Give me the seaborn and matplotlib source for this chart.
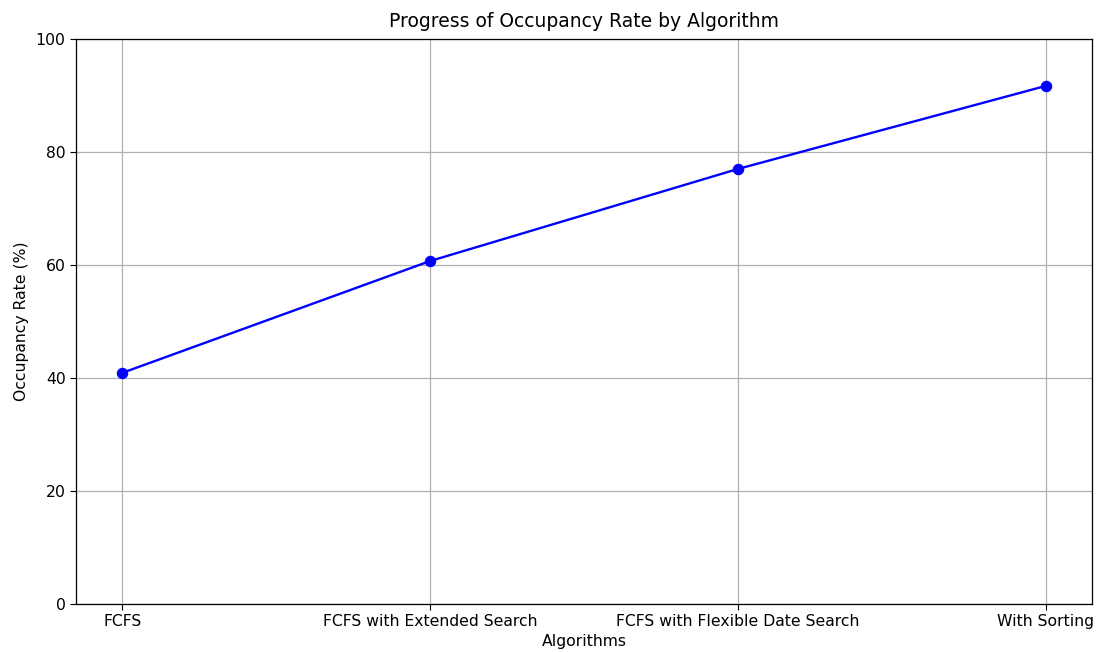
import matplotlib
matplotlib.use("Agg")
import matplotlib.pyplot as plt
import seaborn as sns
import pandas as pd

algorithms = ["FCFS", "FCFS with Extended Search", "FCFS with Flexible Date Search", "With Sorting"]
occupancy = [40.9, 60.7, 77.0, 91.7]

df = pd.DataFrame({"Algorithm": algorithms, "Occupancy": occupancy})

sns.set_style("ticks")
plt.rcParams['font.family'] = ['DejaVu Sans']
plt.rcParams['text.color'] = 'black'
plt.rcParams['axes.labelcolor'] = 'black'
plt.rcParams['xtick.color'] = 'black'
plt.rcParams['ytick.color'] = 'black'

fig = plt.figure(figsize=(10.97, 6.52), dpi=100)
ax = fig.add_axes([76/1097, 1 - 604/652, (1092-76)/1097, (604-39)/652])

sns.lineplot(data=df, x="Algorithm", y="Occupancy", marker="o", color="blue",
             markersize=7.5, markeredgecolor="blue", linewidth=1.7, ax=ax, sort=False)

ax.set_xlim(-0.15, 3.15)
ax.set_ylim(0, 100)
ax.set_title("Progress of Occupancy Rate by Algorithm", fontsize=13.5, color="black", pad=8.5)
ax.set_xlabel("Algorithms", fontsize=11.25, color="black", labelpad=3)
ax.set_ylabel("Occupancy Rate (%)", fontsize=11.25, color="black", labelpad=5)
ax.grid(True, color="#b0b0b0", linewidth=0.9)
for s in ax.spines.values():
    s.set_visible(True)
    s.set_linewidth(0.9)
    s.set_color("black")
ax.tick_params(labelsize=11.25, colors="black", length=4)

fig.savefig("out.png", dpi=100)
